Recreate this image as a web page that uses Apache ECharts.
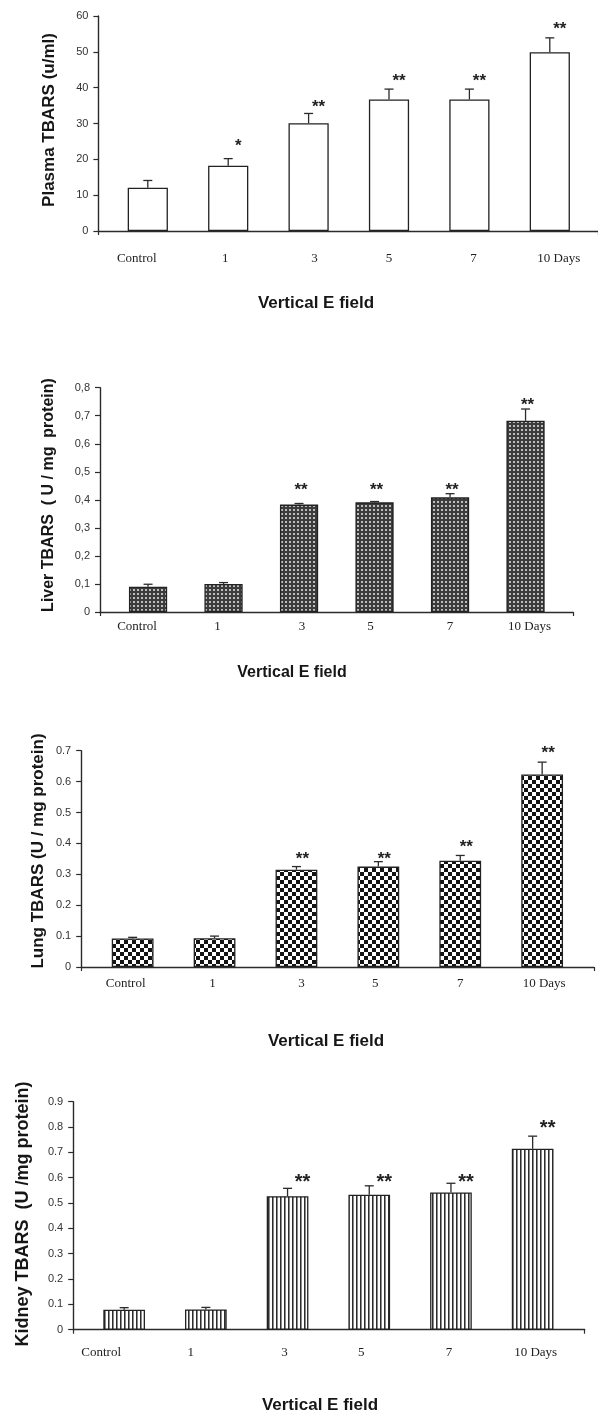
<!DOCTYPE html>
<html><head><meta charset="utf-8">
<script src="https://cdn.jsdelivr.net/npm/echarts@6/dist/echarts.min.js"></script>
<style>html,body{margin:0;padding:0;background:#fff}#c{width:598px;height:1418px}</style>
</head><body><div id="c"></div>
<script>
// ---------- DATA ----------
const categories = ['Control', '1', '3', '5', '7', '10 Days'];

const plasmaValues = [12.1, 18.2, 30.1, 36.7, 36.7, 49.9];
const plasmaErrors = [2.0, 2.0, 2.7, 2.9, 2.9, 4.0];
const plasmaStars = ['', '*', '**', '**', '**', '**'];
const plasmaStarAt = [null, 24.7, 35.6, 42.9, 42.9, 57.5];
const plasmaTicks = ['0', '10', '20', '30', '40', '50', '60'];

const liverValues = [0.090, 0.100, 0.383, 0.391, 0.409, 0.682];
const liverErrors = [0.009, 0.005, 0.004, 0.003, 0.013, 0.042];
const liverStars = ['', '', '**', '**', '**', '**'];
const liverStarAt = [null, null, 0.447, 0.447, 0.447, 0.751];
const liverTicks = ['0', '0,1', '0,2', '0,3', '0,4', '0,5', '0,6', '0,7', '0,8'];

const lungValues = [0.092, 0.093, 0.315, 0.325, 0.344, 0.623];
const lungErrors = [0.004, 0.007, 0.010, 0.016, 0.017, 0.040];
const lungStars = ['', '', '**', '**', '**', '**'];
const lungStarAt = [null, null, 0.3625, 0.3625, 0.402, 0.704];
const lungTicks = ['0', '0.1', '0.2', '0.3', '0.4', '0.5', '0.6', '0.7'];

const kidneyValues = [0.079, 0.080, 0.527, 0.533, 0.542, 0.714];
const kidneyErrors = [0.008, 0.008, 0.031, 0.035, 0.036, 0.050];
const kidneyStars = ['', '', '**', '**', '**', '**'];
const kidneyStarAt = [null, null, 0.601, 0.601, 0.601, 0.8145];
const kidneyTicks = ['0', '0.1', '0.2', '0.3', '0.4', '0.5', '0.6', '0.7', '0.8', '0.9'];

const xTitle = 'Vertical E field';
const yTitles = ['Plasma TBARS (u/ml)', 'Liver TBARS  ( U / mg  protein)', 'Lung TBARS (U / mg protein)', 'Kidney TBARS  (U /mg protein)'];

// ---------- PATTERNS ----------
function pattern(w, h, draw) {
  const c = document.createElement('canvas');
  c.width = w; c.height = h;
  const g = c.getContext('2d');
  draw(g);
  return { image: c, repeat: 'repeat' };
}
const dotFill = pattern(4, 4, g => {
  g.fillStyle = '#3c3c3c'; g.fillRect(0, 0, 4, 4);
  g.fillStyle = '#bdbdbd'; g.fillRect(1, 1, 2, 2);
});
const checkFill = pattern(8, 8, g => {
  g.fillStyle = '#ffffff'; g.fillRect(0, 0, 8, 8);
  g.fillStyle = '#141414'; g.fillRect(0, 0, 4, 4); g.fillRect(4, 4, 4, 4);
});
const stripeFill = pattern(4, 1, g => {
  g.fillStyle = '#ffffff'; g.fillRect(0, 0, 4, 1);
  g.fillStyle = '#2e2e2e'; g.fillRect(0, 0, 1, 1);
  g.fillStyle = '#8a8a8a'; g.fillRect(1, 0, 1, 1);
});

// ---------- LAYOUT / STYLE ----------
const panels = [
  { values: plasmaValues, errors: plasmaErrors, stars: plasmaStars, starAt: plasmaStarAt, ticks: plasmaTicks,
    max: 60, interval: 10, fill: '#ffffff',
    frame: { left: 98.4, width: 499.6, top: 16, height: 215 }, bars: { left: 107.6, width: 482.4 },
    barWidth: '50%', labelMargin: 21, starDx: 10, starFont: 17, labelDx: [-11, -3, 6, 0, 4, 9],
    yT: [49, 120, 17], xT: [316, 303, 17] },
  { values: liverValues, errors: liverErrors, stars: liverStars, starAt: liverStarAt, ticks: liverTicks,
    max: 0.8, interval: 0.1, fill: dotFill,
    frame: { left: 100, width: 473.2, top: 387.7, height: 224.3 }, bars: { left: 110.3, width: 453 },
    barWidth: '50.6%', labelMargin: 8, starDx: 2, starFont: 17, labelDx: [-11, -6, 3, -4, 0, 4],
    yT: [49, 495, 16], xT: [292, 673, 16] },
  { values: lungValues, errors: lungErrors, stars: lungStars, starAt: lungStarAt, ticks: lungTicks,
    max: 0.7, interval: 0.1, fill: checkFill,
    frame: { left: 81.2, width: 512.6, top: 750.7, height: 216.3 }, bars: { left: 91.7, width: 491.4 },
    barWidth: '51%', labelMargin: 10, starDx: 6, starFont: 17, labelDx: [-7, -2, 5, -3, 0, 2],
    yT: [38, 851, 17], xT: [326, 1041, 17] },
  { values: kidneyValues, errors: kidneyErrors, stars: kidneyStars, starAt: kidneyStarAt, ticks: kidneyTicks,
    max: 0.9, interval: 0.1, fill: stripeFill,
    frame: { left: 73.2, width: 511.5, top: 1101.7, height: 228 }, bars: { left: 83.3, width: 490.2 },
    barWidth: '51%', labelMargin: 16, starDx: 15, starFont: 20, labelDx: [-23, -15, -3, -8, -2, 3],
    yT: [23, 1214, 18], xT: [320, 1405, 17] }
];

const AX = '#2b2b2b';
const grid = [], xAxis = [], yAxis = [], series = [], graphic = [];

panels.forEach((p, k) => {
  const gf = 2 * k, gb = 2 * k + 1;
  grid.push({ left: p.frame.left, top: p.frame.top, width: p.frame.width, height: p.frame.height, containLabel: false, outerBoundsMode: 'none' });
  grid.push({ left: p.bars.left, top: p.frame.top, width: p.bars.width, height: p.frame.height, containLabel: false, outerBoundsMode: 'none' });
  // frame axes
  xAxis.push({ gridIndex: gf, type: 'value', min: 0, max: 1, interval: 1,
    axisLine: { show: true, lineStyle: { color: AX, width: 1.4 } },
    axisTick: { show: true, length: 4, lineStyle: { color: AX, width: 1.2 } },
    axisLabel: { show: false }, splitLine: { show: false } });
  yAxis.push({ gridIndex: gf, type: 'value', min: 0, max: p.max, interval: p.interval,
    axisLine: { show: true, lineStyle: { color: AX, width: 1.4 } },
    axisTick: { show: true, length: 5, lineStyle: { color: AX, width: 1.2 } },
    axisLabel: { margin: 10, fontFamily: 'Liberation Sans', fontSize: 11, color: '#333',
      formatter: (v, i) => p.ticks[i] },
    splitLine: { show: false } });
  // bar axes
  xAxis.push({ gridIndex: gb, type: 'category',
    data: categories.map((c, i) => {
      const dx = p.labelDx[i];
      return { value: c, textStyle: { padding: dx < 0 ? [0, -2 * dx, 0, 0] : [0, 0, 0, 2 * dx] } };
    }),
    axisLine: { show: false }, axisTick: { show: false },
    axisLabel: { margin: p.labelMargin, fontFamily: 'Liberation Serif', fontSize: 13, color: '#222', interval: 0 },
    splitLine: { show: false } });
  yAxis.push({ gridIndex: gb, type: 'value', min: 0, max: p.max, show: false, splitLine: { show: false } });

  series.push({ type: 'bar', xAxisIndex: gb, yAxisIndex: gb, data: p.values, barWidth: p.barWidth,
    itemStyle: { color: p.fill, borderColor: '#222', borderWidth: 1.3 }, silent: true, animation: false });

  series.push({ type: 'custom', xAxisIndex: gb, yAxisIndex: gb, animation: false, silent: true, z: 5,
    data: p.values.map((v, i) => [i, v, p.errors[i]]),
    renderItem: (params, api) => {
      const i = params.dataIndex;
      const v = api.value(1), e = api.value(2);
      const b = api.coord([i, v]), t = api.coord([i, v + e]);
      const st = { stroke: AX, lineWidth: 1.3 };
      const ch = [
        { type: 'line', shape: { x1: b[0], y1: b[1], x2: t[0], y2: t[1] }, style: st },
        { type: 'line', shape: { x1: t[0] - 4.5, y1: t[1], x2: t[0] + 4.5, y2: t[1] }, style: st }
      ];
      if (p.stars[i]) {
        const s = api.coord([i, p.starAt[i]]);
        ch.push({ type: 'text', x: s[0] + p.starDx, y: s[1] + 0.24 * p.starFont,
          style: { text: p.stars[i], align: 'center', verticalAlign: 'middle',
            font: 'bold ' + p.starFont + 'px "Liberation Sans"', fill: '#222' } });
      }
      return { type: 'group', children: ch };
    } });

  graphic.push({ type: 'text', x: p.yT[0], y: p.yT[1], rotation: Math.PI / 2,
    style: { text: yTitles[k], align: 'center', verticalAlign: 'middle',
      font: 'bold ' + p.yT[2] + 'px "Liberation Sans"', fill: '#161616' } });
  graphic.push({ type: 'text', x: p.xT[0], y: p.xT[1],
    style: { text: xTitle, align: 'center', verticalAlign: 'middle',
      font: 'bold ' + p.xT[2] + 'px "Liberation Sans"', fill: '#161616' } });
});

const chart = echarts.init(document.getElementById('c'), null, { renderer: 'canvas' });
chart.setOption({ backgroundColor: '#ffffff', animation: false, grid, xAxis, yAxis, series, graphic });
</script>
</body></html>
